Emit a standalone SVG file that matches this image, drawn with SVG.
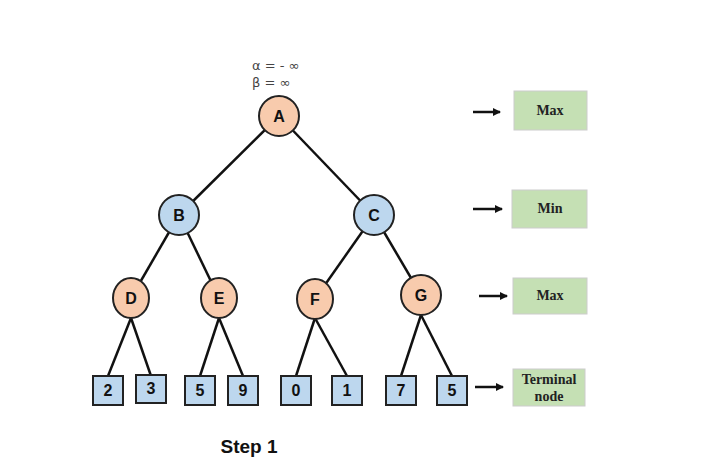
<svg xmlns="http://www.w3.org/2000/svg" width="714" height="472" viewBox="0 0 714 472">
<style>
.mx{fill:#f8cbad;stroke:#222;stroke-width:2}
.mn{fill:#bdd7ee;stroke:#222;stroke-width:2}
.lf{fill:#bdd7ee;stroke:#222;stroke-width:2}
.gr{fill:#c5e0b4;stroke:#ccc;stroke-width:1}
.t{font-family:"Liberation Sans",Arial,sans-serif;font-weight:bold;font-size:16px;text-anchor:middle;fill:#111}
.g{font-family:"Liberation Serif","Times New Roman",serif;font-weight:bold;font-size:14px;text-anchor:middle;fill:#222}
.e{stroke:#111;stroke-width:2.5;fill:none}
.ab{font-family:"DejaVu Sans",sans-serif;font-size:13px;fill:#444}
</style>
<defs><marker id="ar" markerWidth="8" markerHeight="8" refX="7" refY="4" orient="auto" markerUnits="userSpaceOnUse"><path d="M0,0L8,4L0,8z" fill="#111"/></marker></defs>
<rect width="714" height="472" fill="#fff"/>
<g id="connectors" class="e">
<line x1="279" y1="116" x2="179" y2="215"/><line x1="279" y1="116" x2="374" y2="215"/>
<line x1="179" y1="215" x2="131" y2="298"/><line x1="179" y1="215" x2="219" y2="298"/>
<line x1="374" y1="215" x2="315" y2="299"/><line x1="374" y1="215" x2="421" y2="295"/>
<line x1="131" y1="318" x2="108" y2="376"/><line x1="131" y1="318" x2="151" y2="376"/>
<line x1="219" y1="318" x2="200" y2="376"/><line x1="219" y1="318" x2="243" y2="376"/>
<line x1="315" y1="318" x2="296" y2="376"/><line x1="315" y1="318" x2="347" y2="376"/>
<line x1="421" y1="315" x2="401" y2="376"/><line x1="421" y1="315" x2="452" y2="376"/>
<line x1="473" y1="112" x2="500" y2="112" marker-end="url(#ar)"/>
<line x1="473" y1="209" x2="502" y2="209" marker-end="url(#ar)"/>
<line x1="479" y1="296" x2="507" y2="296" marker-end="url(#ar)"/>
<line x1="475" y1="387" x2="503" y2="387" marker-end="url(#ar)"/>
</g>
<text class="ab" x="252" y="70">α = -  ∞</text>
<text class="ab" x="252" y="87">β =     ∞</text>
<g id="A"><circle class="mx" cx="279" cy="116" r="20"/><text class="t" x="279" y="122">A</text></g>
<g id="B"><circle class="mn" cx="179" cy="215" r="20"/><text class="t" x="179" y="221">B</text></g>
<g id="C"><circle class="mn" cx="374" cy="215" r="20"/><text class="t" x="374" y="221">C</text></g>
<g id="D"><ellipse class="mx" cx="131" cy="298" rx="18" ry="20"/><text class="t" x="131" y="304">D</text></g>
<g id="E"><ellipse class="mx" cx="219" cy="298" rx="18" ry="20"/><text class="t" x="219" y="304">E</text></g>
<g id="F"><ellipse class="mx" cx="315" cy="299" rx="18" ry="20"/><text class="t" x="315" y="305">F</text></g>
<g id="G"><circle class="mx" cx="421" cy="295" r="20"/><text class="t" x="421" y="301">G</text></g>
<g id="L1"><rect class="lf" x="93" y="376" width="30" height="29"/><text class="t" x="108" y="396">2</text></g>
<g id="L2"><rect class="lf" x="136" y="375" width="30" height="28"/><text class="t" x="151" y="394">3</text></g>
<g id="L3"><rect class="lf" x="185" y="376" width="30" height="29"/><text class="t" x="200" y="396">5</text></g>
<g id="L4"><rect class="lf" x="228" y="376" width="30" height="29"/><text class="t" x="243" y="396">9</text></g>
<g id="L5"><rect class="lf" x="281" y="376" width="30" height="29"/><text class="t" x="296" y="396">0</text></g>
<g id="L6"><rect class="lf" x="332" y="376" width="30" height="29"/><text class="t" x="347" y="396">1</text></g>
<g id="L7"><rect class="lf" x="386" y="376" width="30" height="29"/><text class="t" x="401" y="396">7</text></g>
<g id="L8"><rect class="lf" x="437" y="376" width="30" height="29"/><text class="t" x="452" y="396">5</text></g>
<g id="K1"><rect class="gr" x="514" y="91" width="73" height="39"/><text class="g" x="550" y="115">Max</text></g>
<g id="K2"><rect class="gr" x="512" y="190" width="75" height="38"/><text class="g" x="550" y="213">Min</text></g>
<g id="K3"><rect class="gr" x="513" y="278" width="74" height="36"/><text class="g" x="550" y="300">Max</text></g>
<g id="K4"><rect class="gr" x="513" y="369" width="72" height="37"/><text class="g" x="549" y="384">Terminal</text><text class="g" x="549" y="401">node</text></g>
<text x="249" y="453" style="font-family:'Liberation Sans',Arial,sans-serif;font-weight:bold;font-size:19px;text-anchor:middle;fill:#111">Step 1</text>
</svg>
